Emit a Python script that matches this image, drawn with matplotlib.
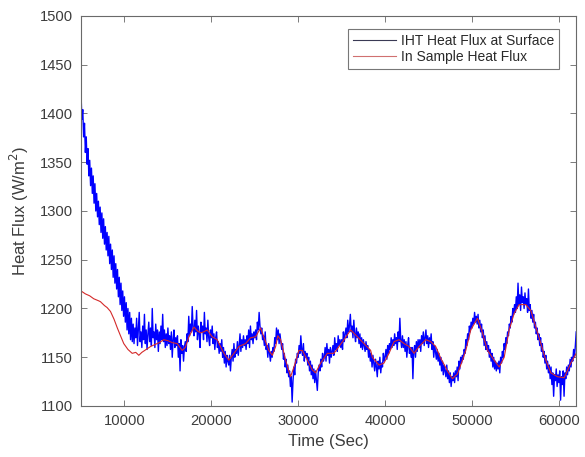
import numpy as np
import matplotlib
matplotlib.use("Agg")
import matplotlib.pyplot as plt

plt.rcParams['font.family'] = ['Liberation Sans', 'DejaVu Sans']

# IHT heat flux at the surface, sampled every 100 s from 5000 s to 62000 s
iht_flux = [
    1420, 1394, 1404, 1376, 1390, 1360, 1376, 1348, 1364, 1336,
    1352, 1326, 1344, 1318, 1336, 1308, 1328, 1300, 1318, 1294,
    1310, 1286, 1304, 1278, 1298, 1272, 1292, 1266, 1284, 1260,
    1278, 1254, 1274, 1246, 1266, 1240, 1260, 1232, 1254, 1226,
    1246, 1220, 1240, 1212, 1232, 1204, 1226, 1198, 1218, 1192,
    1212, 1186, 1206, 1178, 1200, 1174, 1196, 1168, 1190, 1166,
    1184, 1164, 1180, 1170, 1190, 1162, 1178, 1196, 1166, 1176,
    1160, 1182, 1168, 1194, 1164, 1178, 1158, 1174, 1186, 1166,
    1180, 1162, 1200, 1170, 1176, 1160, 1184, 1168, 1178, 1156,
    1176, 1164, 1182, 1168, 1194, 1166, 1178, 1160, 1174, 1162,
    1180, 1164, 1172, 1158, 1176, 1150, 1168, 1178, 1160, 1170,
    1162, 1172, 1150, 1164, 1136, 1168, 1154, 1162, 1146, 1160,
    1166, 1156, 1174, 1166, 1192, 1172, 1184, 1176, 1202, 1180,
    1172, 1188, 1176, 1198, 1168, 1182, 1174, 1160, 1186, 1176,
    1182, 1168, 1196, 1174, 1180, 1166, 1188, 1170, 1162, 1178,
    1170, 1182, 1164, 1174, 1158, 1170, 1176, 1160, 1166, 1154,
    1164, 1156, 1168, 1150, 1160, 1144, 1156, 1140, 1152, 1146,
    1142, 1152, 1136, 1150, 1158, 1146, 1164, 1150, 1158, 1154,
    1166, 1152, 1162, 1174, 1156, 1168, 1160, 1172, 1162, 1168,
    1158, 1172, 1164, 1178, 1160, 1182, 1168, 1174, 1164, 1176,
    1170, 1178, 1168, 1186, 1178, 1196, 1182, 1174, 1180, 1168,
    1172, 1162, 1176, 1158, 1162, 1150, 1164, 1154, 1146, 1156,
    1150, 1160, 1156, 1170, 1164, 1180, 1168, 1178, 1164, 1174,
    1166, 1158, 1164, 1148, 1154, 1140, 1148, 1134, 1142, 1130,
    1136, 1120, 1130, 1104, 1126, 1140, 1132, 1148, 1144, 1154,
    1150, 1162, 1154, 1172, 1158, 1152, 1164, 1146, 1156, 1150,
    1154, 1142, 1150, 1136, 1146, 1132, 1142, 1128, 1138, 1124,
    1136, 1126, 1116, 1134, 1142, 1136, 1148, 1140, 1154, 1146,
    1150, 1160, 1146, 1164, 1152, 1158, 1144, 1160, 1150, 1156,
    1162, 1152, 1170, 1158, 1164, 1156, 1172, 1162, 1168, 1160,
    1168, 1158, 1176, 1166, 1174, 1180, 1170, 1188, 1176, 1182,
    1194, 1176, 1182, 1170, 1188, 1174, 1166, 1180, 1170, 1176,
    1164, 1174, 1160, 1170, 1158, 1168, 1162, 1156, 1166, 1158,
    1162, 1150, 1158, 1146, 1154, 1140, 1152, 1144, 1136, 1148,
    1140, 1130, 1146, 1138, 1150, 1134, 1144, 1140, 1154, 1146,
    1150, 1158, 1148, 1162, 1154, 1164, 1158, 1170, 1160, 1168,
    1162, 1174, 1164, 1170, 1158, 1176, 1166, 1190, 1168, 1160,
    1172, 1160, 1168, 1156, 1166, 1150, 1162, 1170, 1154, 1160,
    1150, 1160, 1128, 1156, 1162, 1150, 1166, 1156, 1168, 1160,
    1168, 1156, 1172, 1164, 1176, 1162, 1170, 1178, 1164, 1172,
    1160, 1170, 1164, 1174, 1158, 1166, 1150, 1162, 1156, 1148,
    1158, 1146, 1154, 1142, 1150, 1136, 1146, 1132, 1142, 1136,
    1130, 1142, 1128, 1136, 1124, 1134, 1120, 1130, 1126, 1134,
    1124, 1136, 1130, 1140, 1126, 1146, 1138, 1150, 1144, 1152,
    1148, 1158, 1154, 1168, 1162, 1174, 1168, 1182, 1176, 1186,
    1180, 1190, 1184, 1196, 1186, 1192, 1184, 1194, 1180, 1188,
    1176, 1184, 1170, 1178, 1162, 1172, 1158, 1166, 1156, 1162,
    1150, 1158, 1146, 1154, 1140, 1150, 1138, 1146, 1136, 1144,
    1138, 1146, 1134, 1150, 1144, 1156, 1150, 1164, 1158, 1170,
    1164, 1176, 1172, 1184, 1180, 1192, 1186, 1200, 1194, 1204,
    1196, 1212, 1200, 1226, 1204, 1214, 1198, 1222, 1206, 1212,
    1200, 1216, 1204, 1210, 1196, 1220, 1198, 1204, 1190, 1198,
    1186, 1194, 1180, 1186, 1174, 1180, 1168, 1174, 1162, 1170,
    1156, 1164, 1150, 1156, 1144, 1152, 1138, 1146, 1134, 1142,
    1128, 1140, 1122, 1134, 1110, 1132, 1126, 1138, 1120, 1132,
    1124, 1136, 1106, 1130, 1122, 1136, 1110, 1134, 1128, 1140,
    1132, 1142, 1136, 1148, 1140, 1150, 1146, 1158, 1150, 1162,
    1176,
]
iht_time = np.linspace(5000, 62000, len(iht_flux))

# In-sample heat flux
sample_time = [
    5000, 5500, 6000, 6460, 7000, 7235, 7700, 8000, 8390, 8800,
    9180, 9500, 9920, 10400, 10890, 11300, 11650, 12000, 12500, 13000,
    13500, 14000, 14530, 15000, 15500, 16070, 16650, 17000, 17420, 18000,
    18400, 18760, 19100, 19530, 20100, 20680, 21260, 21600, 22020, 22600,
    23170, 23940, 24520, 25090, 25670, 26160, 26620, 27020, 27400, 27650,
    27970, 28550, 29120, 29510, 30080, 30470, 31050, 31620, 32000, 32580,
    33350, 34110, 34690, 35270, 36040, 36810, 37570, 38340, 38530, 39300,
    39870, 40450, 41030, 41600, 42180, 42760, 43330, 43910, 44680, 45250,
    45830, 46400, 47180, 47750, 48330, 48910, 49290, 49860, 50630, 51210,
    51790, 52550, 53130, 53710, 54280, 54860, 55430, 56200, 56770, 57350,
    57930, 58500, 59080, 59850, 60610, 61380, 62000,
]
sample_flux = [
    1218, 1215, 1213, 1210, 1208, 1207, 1203, 1201, 1197, 1189,
    1180, 1173, 1164, 1158, 1154, 1155, 1152, 1155, 1158, 1161,
    1163, 1165, 1168, 1167, 1165, 1164, 1157, 1160, 1171, 1181,
    1177, 1175, 1176, 1178, 1171, 1168, 1157, 1152, 1147, 1154,
    1161, 1164, 1170, 1171, 1180, 1168, 1157, 1152, 1161, 1172,
    1168, 1147, 1130, 1140, 1157, 1157, 1147, 1137, 1134, 1144,
    1154, 1154, 1161, 1168, 1178, 1171, 1164, 1157, 1150, 1142,
    1144, 1154, 1166, 1168, 1164, 1161, 1154, 1161, 1168, 1166,
    1161, 1149, 1136, 1128, 1133, 1147, 1157, 1178, 1190, 1175,
    1157, 1147, 1140, 1150, 1178, 1195, 1204, 1204, 1198, 1181,
    1164, 1147, 1134, 1130, 1129, 1144, 1154,
]

x_ticks = [10000, 20000, 30000, 40000, 50000, 60000]
y_ticks = [1100, 1150, 1200, 1250, 1300, 1350, 1400, 1450, 1500]

fig = plt.figure(figsize=(5.85, 4.57), dpi=100)
ax = fig.add_axes([0.1385, 0.1116, 0.8465, 0.8534])

ax.plot(iht_time, iht_flux, color='#0000ff', lw=1.0,
        label='IHT Heat Flux at Surface')
ax.plot(sample_time, sample_flux, color='#d42a2a', lw=0.8,
        label='In Sample Heat Flux')

ax.set_xlim(5000, 62000)
ax.set_ylim(1100, 1500)
ax.set_xticks(x_ticks)
ax.set_yticks(y_ticks)
ax.set_xticklabels([str(v) for v in x_ticks])
ax.set_yticklabels([str(v) for v in y_ticks])

text_col = '#3c3c3c'
ax.tick_params(direction='in', top=True, right=True, length=4, width=0.6,
               colors='#666666', labelcolor=text_col, labelsize=10.6, pad=6)
for s in ax.spines.values():
    s.set_color('#6a6a6a')
    s.set_linewidth(0.8)

ax.set_xlabel('Time (Sec)', fontsize=12, color=text_col, labelpad=4)
ax.set_ylabel('Heat Flux (W/m$^2$)', fontsize=12, color=text_col, labelpad=6)

leg = ax.legend(loc='upper right', fontsize=10, frameon=True, fancybox=False,
                handlelength=3.1, handletextpad=0.4, borderpad=0.35,
                labelspacing=0.15, bbox_to_anchor=(0.98, 0.985))
leg.get_frame().set_edgecolor('#555555')
leg.get_frame().set_linewidth(0.8)
for h, c in zip(leg.get_lines(), ['#3a3a55', '#d07070']):
    h.set_color(c)
    h.set_linewidth(0.8)
for t in leg.get_texts():
    t.set_color('#2a2a2a')

fig.savefig('out.png', dpi=100)
